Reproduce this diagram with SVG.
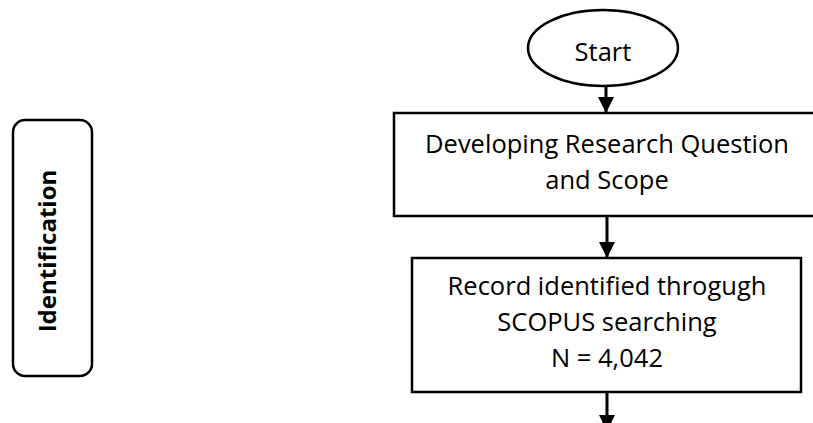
<svg xmlns="http://www.w3.org/2000/svg" width="813" height="423" viewBox="0 0 813 423">
<style>
.shape{fill:#fff;stroke:#000;stroke-width:2.5}
.t{font-family:"Open Sans","Noto Sans","Liberation Sans",sans-serif;font-size:25.5px;fill:#000;text-anchor:middle}
.b{font-family:"Open Sans","Noto Sans","Liberation Sans",sans-serif;font-size:24px;font-weight:bold;fill:#000;text-anchor:middle}
.c{stroke:#000;stroke-width:3;fill:none}
</style>
<defs>
<marker id="ah" markerUnits="userSpaceOnUse" markerWidth="16" markerHeight="16" refX="16" refY="8" orient="auto">
<path d="M0,0 L16,8 L0,16 Z" fill="#000"/>
</marker>
</defs>
<rect width="813" height="423" fill="#fff"/>
<g id="identification">
<rect class="shape" x="13" y="120" width="79" height="256" rx="12"/>
<text class="b" transform="translate(56,251) rotate(-90)">Identification</text>
</g>
<g id="start">
<ellipse class="shape" cx="603" cy="48" rx="75" ry="38"/>
<text class="t" x="603" y="61">Start</text>
</g>
<g id="developing">
<rect class="shape" x="394" y="113" width="430" height="103"/>
<text class="t" x="607" y="153">Developing Research Question</text>
<text class="t" x="607" y="189">and Scope</text>
</g>
<g id="record">
<rect class="shape" x="412" y="258" width="389" height="134"/>
<text class="t" x="607" y="295">Record identified throgugh</text>
<text class="t" x="607" y="331">SCOPUS searching</text>
<text class="t" x="607" y="367">N = 4,042</text>
</g>
<g id="connectors">
<line class="c" x1="606" y1="87" x2="606" y2="113" marker-end="url(#ah)"/>
<line class="c" x1="607" y1="216" x2="607" y2="258" marker-end="url(#ah)"/>
<line class="c" x1="607" y1="392" x2="607" y2="431" marker-end="url(#ah)"/>
</g>
</svg>
